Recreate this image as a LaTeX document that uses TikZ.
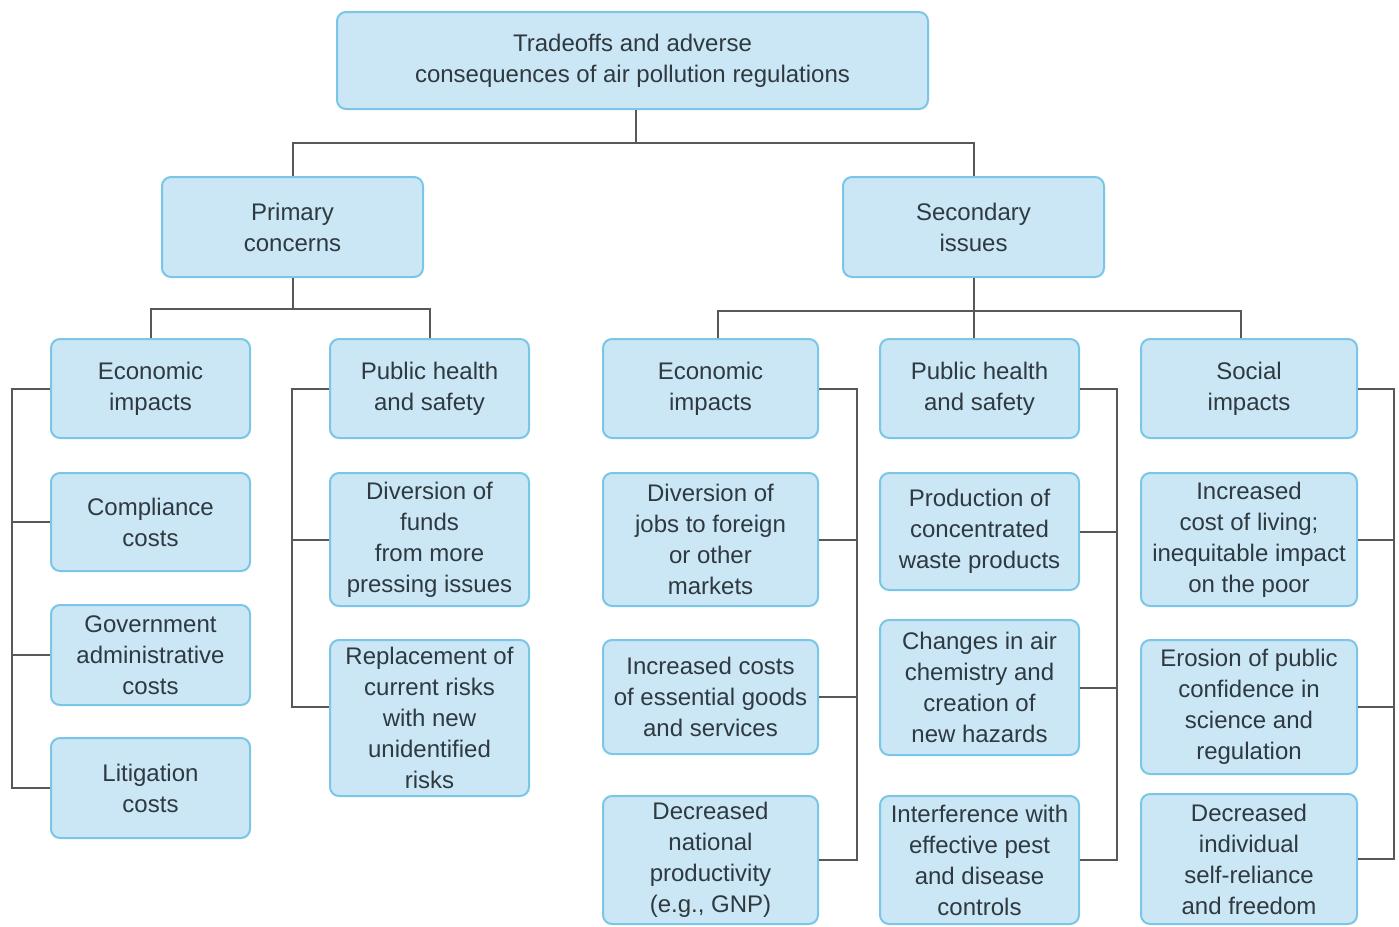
\documentclass[tikz,border=0pt]{standalone}
\usepackage{fontspec}
\setmainfont{Liberation Sans}
\usetikzlibrary{calc}
\definecolor{boxfill}{HTML}{CBE7F6}
\definecolor{boxline}{HTML}{7AC6E6}
\definecolor{txt}{HTML}{2E3940}
\definecolor{conline}{HTML}{585858}
\tikzset{
  box/.style={draw=boxline, line width=2pt, fill=boxfill, rounded corners=9pt,
    align=center, inner sep=0pt, text=txt, font=\fontsize{24}{31}\selectfont},
  conn/.style={draw=conline, line width=2pt}
}
\begin{document}
\begin{tikzpicture}[x=1pt,y=-1pt]
\useasboundingbox (0,0) rectangle (1399,926);
% level 1 and 2
\node[box, minimum width=591pt, minimum height=97pt] (top) at (632.5,60.5) {Tradeoffs and adverse\\consequences of air pollution regulations};
\node[box, minimum width=261pt, minimum height=100pt] (prim) at (292.5,227) {Primary\\concerns};
\node[box, minimum width=261pt, minimum height=100pt] (sec) at (973.5,227) {Secondary\\issues};
% level 3
\node[box, minimum width=199pt, minimum height=99pt] (pe) at (150.5,388.5) {Economic\\impacts};
\node[box, minimum width=199pt, minimum height=99pt] (ph) at (429.5,388.5) {Public health\\and safety};
\node[box, minimum width=215pt, minimum height=99pt] (se) at (710.5,388.5) {Economic\\impacts};
\node[box, minimum width=199pt, minimum height=99pt] (sh) at (979.5,388.5) {Public health\\and safety};
\node[box, minimum width=216pt, minimum height=99pt] (ss) at (1249,388.5) {Social\\impacts};
% primary economic
\node[box, minimum width=199pt, minimum height=98pt] (c1) at (150.5,522) {Compliance\\costs};
\node[box, minimum width=199pt, minimum height=100pt] (c2) at (150.5,655) {Government\\administrative\\costs};
\node[box, minimum width=199pt, minimum height=100pt] (c3) at (150.5,788) {Litigation\\costs};
% primary health
\node[box, minimum width=199pt, minimum height=133pt] (d1) at (429.5,539.5) {Diversion of\\funds\\from more\\pressing issues};
\node[box, minimum width=199pt, minimum height=156pt] (d2) at (429.5,718) {Replacement of\\current risks\\with new\\unidentified\\risks};
% secondary economic
\node[box, minimum width=215pt, minimum height=133pt] (j1) at (710.5,539.5) {Diversion of\\jobs to foreign\\or other\\markets};
\node[box, minimum width=215pt, minimum height=114pt] (j2) at (710.5,697) {Increased costs\\of essential goods\\and services};
\node[box, minimum width=215pt, minimum height=128pt] (j3) at (710.5,860) {Decreased\\national\\productivity\\(e.g., GNP)};
% secondary health
\node[box, minimum width=199pt, minimum height=117pt] (h1) at (979.5,531.5) {Production of\\concentrated\\waste products};
\node[box, minimum width=199pt, minimum height=135pt] (h2) at (979.5,687.5) {Changes in air\\chemistry and\\creation of\\new hazards};
\node[box, minimum width=199pt, minimum height=128pt] (h3) at (979.5,860) {Interference with\\effective pest\\and disease\\controls};
% social
\node[box, minimum width=216pt, minimum height=133pt] (s1) at (1249,539.5) {Increased\\cost of living;\\inequitable impact\\on the poor};
\node[box, minimum width=216pt, minimum height=134pt] (s2) at (1249,707) {Erosion of public\\confidence in\\science and\\regulation};
\node[box, minimum width=216pt, minimum height=130pt] (s3) at (1249,859) {Decreased\\individual\\self-reliance\\and freedom};
% bus coordinates
\coordinate (tbus) at (0,143);
\coordinate (pbus) at (0,309);
\coordinate (sbus) at (0,311);
\coordinate (bx1) at (12,0);
\coordinate (bx2) at (292,0);
\coordinate (bx3) at (857,0);
\coordinate (bx4) at (1117,0);
\coordinate (bx5) at (1394,0);
\coordinate (tdrop) at ([xshift=3.5pt]top.south);
\coordinate (sedrop) at ([xshift=7.5pt]se.north);
\coordinate (ssdrop) at ([xshift=-8pt]ss.north);
% top tree
\draw[conn] (tdrop) -- (tdrop |- tbus);
\draw[conn] (prim.north) -- (prim.north |- tbus) -- (sec.north |- tbus) -- (sec.north);
% primary tree
\draw[conn] (prim.south) -- (prim.south |- pbus);
\draw[conn] (pe.north) -- (pe.north |- pbus) -- (ph.north |- pbus) -- (ph.north);
% secondary tree
\draw[conn] (sec.south) -- (sec.south |- sbus);
\draw[conn] (sedrop) -- (sedrop |- sbus) -- (ssdrop |- sbus) -- (ssdrop);
\draw[conn] (sec.south |- sbus) -- (sec.south |- sh.north);
% brackets: primary economic
\draw[conn] (pe.west) -- (pe.west -| bx1) -- (c3.west -| bx1) -- (c3.west);
\draw[conn] (c1.west) -- (c1.west -| bx1);
\draw[conn] (c2.west) -- (c2.west -| bx1);
% primary health
\coordinate (d2t) at ([yshift=11pt]d2.west);
\draw[conn] (ph.west) -- (ph.west -| bx2) -- (d2t -| bx2) -- (d2t);
\draw[conn] (d1.west) -- (d1.west -| bx2);
% secondary economic
\draw[conn] (se.east) -- (se.east -| bx3) -- (j3.east -| bx3) -- (j3.east);
\draw[conn] (j1.east) -- (j1.east -| bx3);
\draw[conn] (j2.east) -- (j2.east -| bx3);
% secondary health
\draw[conn] (sh.east) -- (sh.east -| bx4) -- (h3.east -| bx4) -- (h3.east);
\draw[conn] (h1.east) -- (h1.east -| bx4);
\draw[conn] (h2.east) -- (h2.east -| bx4);
% social
\draw[conn] (ss.east) -- (ss.east -| bx5) -- (s3.east -| bx5) -- (s3.east);
\draw[conn] (s1.east) -- (s1.east -| bx5);
\draw[conn] (s2.east) -- (s2.east -| bx5);
\end{tikzpicture}
\end{document}
